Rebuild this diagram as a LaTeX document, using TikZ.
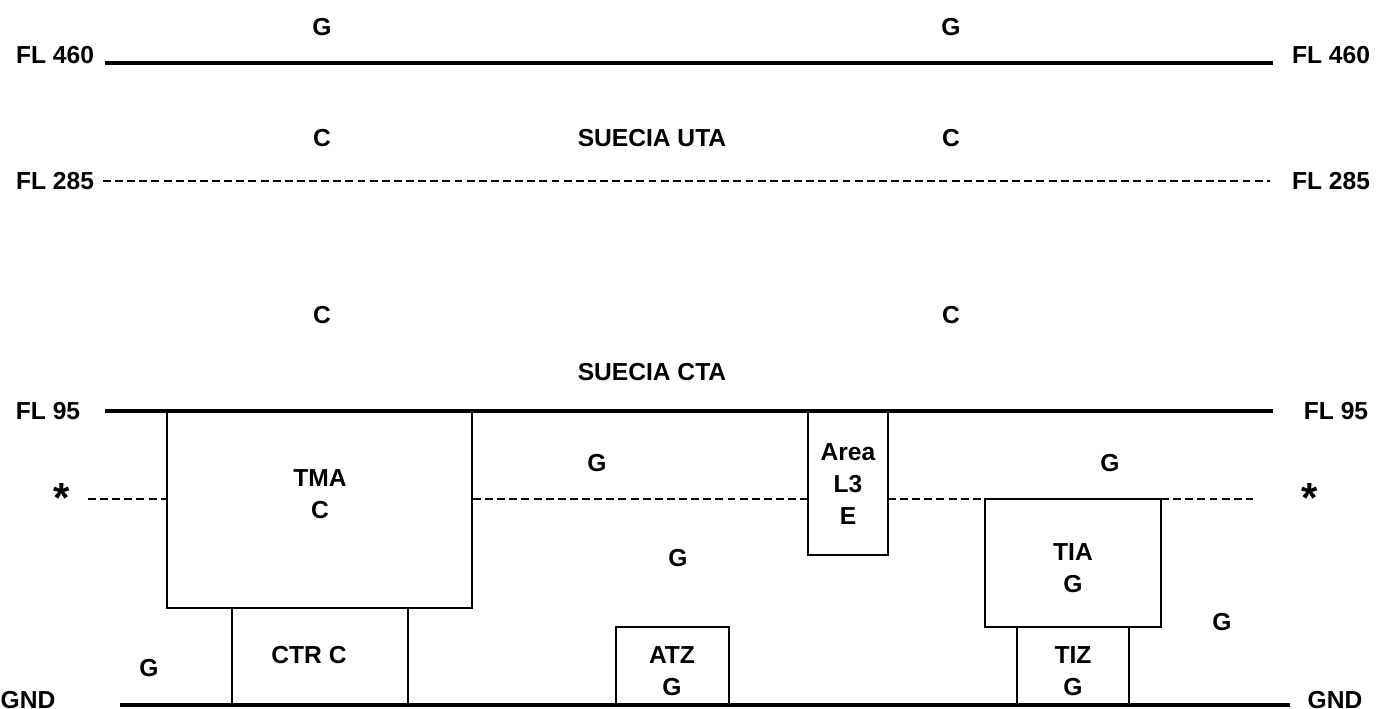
\documentclass[tikz,border=0pt]{standalone}
\usepackage{fontspec}
\setmainfont{Liberation Sans}
\usetikzlibrary{positioning}

\begin{document}
\begin{tikzpicture}[x=0.02cm, y=-0.02cm,
    lbl/.style={font=\fontsize{14}{18.2}\selectfont\bfseries, inner sep=0pt, align=center},
    level/.style={line width=2.3pt},
    split/.style={line width=1.1pt, dash pattern=on 4.5pt off 2.4pt},
    zone/.style={draw, line width=1.1pt}]
\useasboundingbox (0,0) rectangle (1377,709);

% flight levels
\node[lbl] (fl460l) at (55,55) {FL 460};
\node[lbl] (fl460r) at (1331,55) {FL 460};
\node[lbl] (fl285l) at (55,181) {FL 285};
\node[lbl] (fl285r) at (1331,181) {FL 285};
\node[lbl] (fl95l) at (48,411) {FL 95};
\node[lbl] (fl95r) at (1336,411) {FL 95};
\node[lbl] (gndl) at (28,700) {GND};
\node[lbl] (gndr) at (1335,700) {GND};
\node[lbl, font=\fontsize{24}{24}\selectfont\bfseries] (starl) at (62,498) {*};
\node[lbl, font=\fontsize{24}{24}\selectfont\bfseries] (starr) at (1310,498) {*};

\coordinate (a1) at (105,63);  \coordinate (a2) at (1273,63);
\coordinate (b1) at (103,181); \coordinate (b2) at (1270,181);
\coordinate (c1) at (105,411); \coordinate (c2) at (1273,411);
\coordinate (d1) at (120,705); \coordinate (d2) at (1290,705);

\draw[level] (a1) -- (a2);
\draw[split] (b1) -- (b2);
\draw[level] (c1) -- (c2);
\draw[level] (d1) -- (d2);

% areas
\draw[zone] (167,411) rectangle (472,608);
\draw[zone] (232,608) rectangle (408,705);
\draw[zone] (616,627) rectangle (729,705);
\draw[zone] (808,411) rectangle (888,555);
\draw[zone] (985,499) rectangle (1161,627);
\draw[zone] (1017,627) rectangle (1129,705);

% lower limit of the upper part
\draw[split] (88,499) -- (167,499);
\draw[split] (473,499) -- (808,499);
\draw[split] (888,499) -- (985,499);
\draw[split] (1161,499) -- (1253,499);

% class letters
\node[lbl] (g1) at (322,27) {G};
\node[lbl] (g2) at (951,27) {G};
\node[lbl] (c3) at (322,138) {C};
\node[lbl] (uta) at (652,138) {SUECIA UTA};
\node[lbl] (c4) at (951,138) {C};
\node[lbl] (c5) at (322,315) {C};
\node[lbl] (c6) at (951,315) {C};
\node[lbl] (cta) at (652,372) {SUECIA CTA};

\node[lbl] (tma) at (320,494) {TMA\\C};
\node[lbl] (ctr) at (309,655) {CTR C};
\node[lbl] (g3) at (149,668) {G};
\node[lbl] (g4) at (597,463) {G};
\node[lbl] (g5) at (678,558) {G};
\node[lbl] (atz) at (672,671) {ATZ\\G};
\node[lbl] (l3) at (848,484) {Area\\L3\\E};
\node[lbl] (g6) at (1110,463) {G};
\node[lbl] (tia) at (1073,568) {TIA\\G};
\node[lbl] (tiz) at (1073,671) {TIZ\\G};
\node[lbl] (g7) at (1222,622) {G};
\end{tikzpicture}
\end{document}
